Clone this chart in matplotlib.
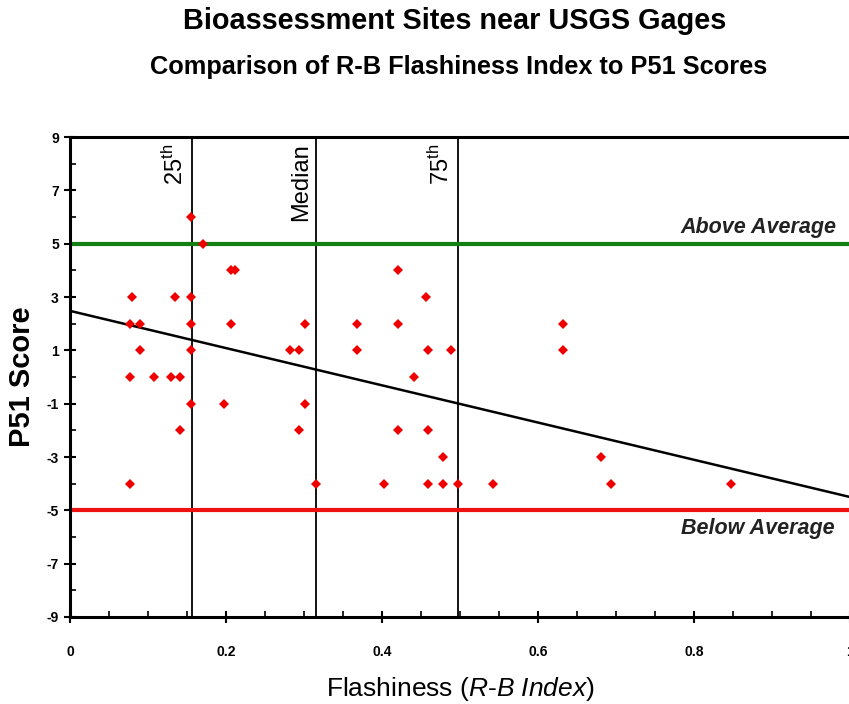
import matplotlib
matplotlib.use('Agg')
import matplotlib.pyplot as plt
import numpy as np

plt.rcParams['font.family'] = ['Liberation Sans', 'DejaVu Sans']
plt.rcParams['mathtext.fontset'] = 'custom'
plt.rcParams['mathtext.rm'] = 'Liberation Sans'
plt.rcParams['mathtext.it'] = 'Liberation Sans:italic'
plt.rcParams['axes.unicode_minus'] = False

# R-B flashiness index vs P51 score
flash = [0.155, 0.170, 0.206, 0.211, 0.080, 0.134, 0.155, 0.077, 0.090, 0.155,
         0.206, 0.301, 0.090, 0.155, 0.282, 0.294, 0.077, 0.108, 0.129, 0.141,
         0.155, 0.197, 0.301, 0.141, 0.294, 0.077, 0.315,
         0.4205, 0.456, 0.368, 0.4205, 0.632, 0.368, 0.459, 0.489, 0.632,
         0.441, 0.4205, 0.459, 0.478, 0.403, 0.459, 0.478, 0.497, 0.542,
         0.681, 0.694, 0.848]
p51 = [6, 5, 4, 4, 3, 3, 3, 2, 2, 2,
       2, 2, 1, 1, 1, 1, 0, 0, 0, 0,
       -1, -1, -1, -2, -2, -4, -4,
       4, 3, 2, 2, 2, 1, 1, 1, 1,
       0, -2, -2, -3, -4, -4, -4, -4, -4,
       -3, -4, -4]

# trend line as drawn on the chart
fit_intercept = 2.48
fit_slope = -6.98

quartiles = [0.156, 0.315, 0.497]
quartile_labels = ['25$^{\\mathrm{th}}$', 'Median', '75$^{\\mathrm{th}}$']
above_avg = 5
below_avg = -5

fig = plt.figure(figsize=(8.49, 7.04), dpi=100)
ax = fig.add_axes([70/849, 1-617/704, 780/849, 480/704])

for q, lab in zip(quartiles, quartile_labels):
    ax.axvline(q, color='black', lw=1.3, zorder=2)
    ax.text(q - 0.005, 8.75, lab, rotation=90, ha='right', va='top',
            fontsize=17, zorder=3)

ax.axhline(above_avg, color='#138013', lw=3, zorder=2)
ax.axhline(below_avg, color='#ee1111', lw=3, zorder=2)
ax.text(0.983, above_avg + 0.22, 'Above Average', ha='right', va='bottom',
        fontsize=15.5, fontweight='bold', style='italic', color='#222222')
ax.text(0.98, below_avg - 0.3, 'Below Average', ha='right', va='top',
        fontsize=15.5, fontweight='bold', style='italic', color='#222222')

xs = np.array([0.0, 1.0])
ax.plot(xs, fit_intercept + fit_slope * xs, color='black', lw=1.8, zorder=3)

ax.plot(flash, p51, linestyle='none', marker='D', ms=5, color='#ee0000',
        markeredgewidth=0, zorder=4)

ax.set_xlim(0, 1)
ax.set_ylim(-9, 9)
ax.set_xticks(np.arange(0, 1.01, 0.2))
ax.set_xticks(np.arange(0, 1.001, 0.05), minor=True)
ax.set_xticklabels(['0', '0.2', '0.4', '0.6', '0.8', '1'])
ax.set_yticks(np.arange(-9, 10, 2))
ax.set_yticks(np.arange(-8, 9, 2), minor=True)

for s in ['left', 'bottom', 'top']:
    ax.spines[s].set_linewidth(2.2)
ax.spines['right'].set_visible(False)

ax.tick_params(axis='both', which='major', direction='inout', length=8,
               width=1.5, labelsize=10)
ax.tick_params(axis='both', which='minor', direction='in', length=4, width=1.2)
ax.tick_params(axis='x', which='major', pad=16)
ax.tick_params(axis='y', which='major', pad=4)
for t in ax.get_xticklabels() + ax.get_yticklabels():
    t.set_fontweight('bold')

ax.set_ylabel('P51 Score', fontsize=21, fontweight='bold', labelpad=8)
ax.set_xlabel('Flashiness $\\mathit{(R}$-$\\mathit{B\\ Index)}$', fontsize=19,
              labelpad=12)

fig.text(0.536, 1-21/704, 'Bioassessment Sites near USGS Gages', ha='center',
         va='center', fontsize=20.8, fontweight='bold')
fig.text(0.54, 1-67/704, 'Comparison of R-B Flashiness Index to P51 Scores',
         ha='center', va='center', fontsize=18.3, fontweight='bold')

plt.savefig('out.png', dpi=100)
